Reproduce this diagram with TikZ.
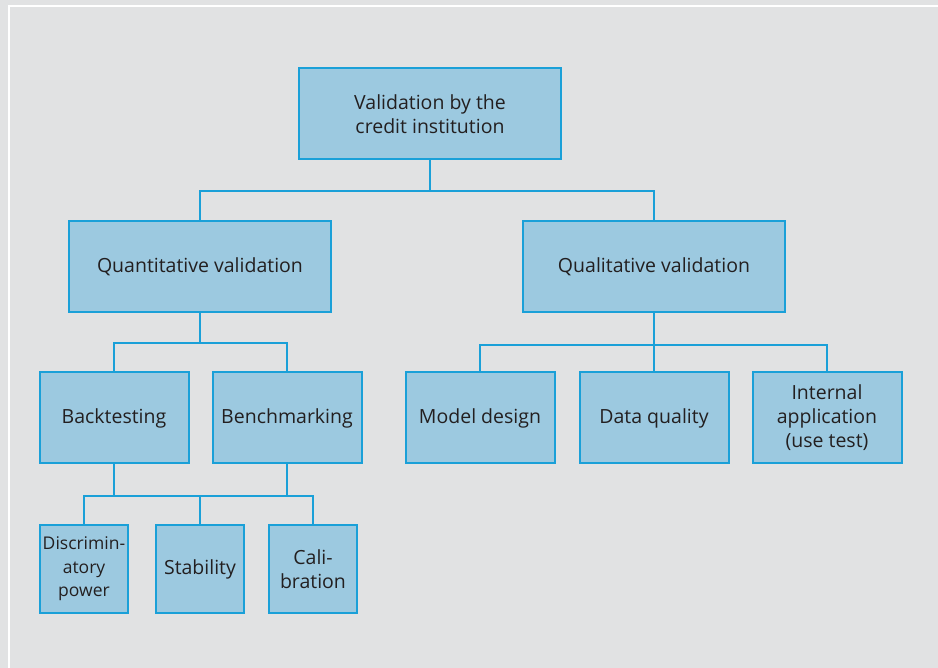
\documentclass[tikz,border=0pt]{standalone}
\usepackage{fontspec}
\setmainfont{Open Sans}
\usetikzlibrary{positioning}
\definecolor{boxfill}{HTML}{9CC9E0}
\definecolor{boxline}{HTML}{1AA0D8}
\definecolor{bggray}{HTML}{E1E2E3}
\definecolor{txt}{HTML}{231F20}
\begin{document}
\begin{tikzpicture}[x=1pt,y=-1pt,
	box/.style={draw=boxline,fill=boxfill,line width=2pt,align=center,text=txt,
		font=\fontsize{19.5}{24}\selectfont,inner sep=0pt},
	big/.style={box,minimum width=262pt,minimum height=91pt},
	mid/.style={box,minimum width=149pt,minimum height=91pt},
	small/.style={box,minimum width=88pt,minimum height=88pt},
	link/.style={draw=boxline,line width=2pt}]
	 % background and white frame
	 \fill[bggray] (0,0) rectangle (938,668);
	 \useasboundingbox (0,0) rectangle (938,668);
	 \draw[white,line width=2.5pt] (8,6) -- (938,6);
	 \draw[white,line width=2.5pt] (9,5) -- (9,668);

	 \node[big] (root) at (430,114) {Validation by the\\credit institution};
	 \node[big] (quant) at (200,267) {Quantitative validation};
	 \node[big] (qual) at (654,267) {Qualitative validation};

	 \node[mid] (back) at (114,418) {Backtesting};
	 \node[mid] (bench) at (287,418) {Benchmarking};
	 \node[mid] (model) at (480,418) {Model design};
	 \node[mid] (data) at (654,418) {Data quality};
	 \node[mid] (intern) at (827,418) {Internal\\application\\(use test)};

	 \node[small,font=\fontsize{17.5}{23.5}\selectfont] (disc) at (84,569) {Discrimin-\\atory\\power};
	 \node[small] (stab) at (200,569) {Stability};
	 \node[small] (cali) at (313,569) {Cali-\\bration};

	 \coordinate (j1) at (430,191);
	 \coordinate (j2) at (200,343);
	 \coordinate (j3) at (654,345);
	 \coordinate (j4) at (200,496);

	 \path[link]
	 (root.south) -- (j1) -| (quant.north)
	 (j1) -| (qual.north)
	 (quant.south) -- (j2) -| (back.north)
	 (j2) -| (bench.north)
	 (qual.south) -- (j3) -| (model.north)
	 (j3) -| (intern.north)
	 (j3) -- (data.north)
	 (back.south) |- (j4)
	 (bench.south) |- (j4)
	 (j4) -| (disc.north)
	 (j4) -| (cali.north)
	 (j4) -- (stab.north)
	 ;
\end{tikzpicture}
\end{document}
